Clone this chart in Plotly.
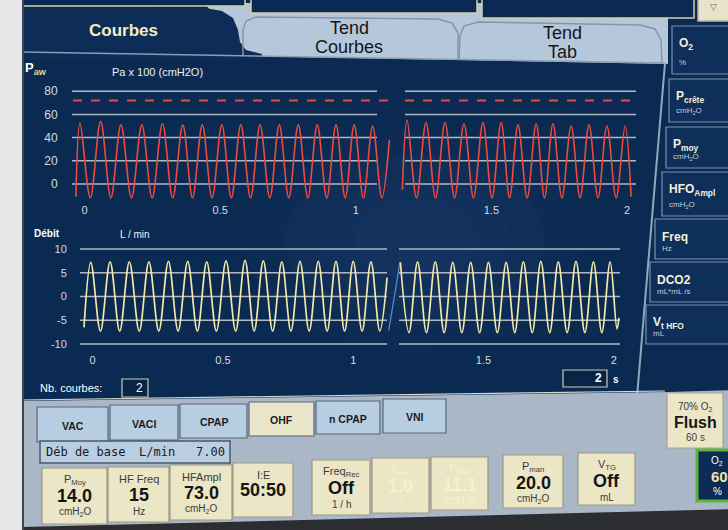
import plotly.graph_objects as go

W, H = 728, 530

# ---- waveforms (time in s) ----
# Paw (Pa x 100, cmH2O): left = current sweep, right = previous sweep
p_left_t = [-0.032, -0.017, 0.021, 0.059, 0.097, 0.134, 0.173, 0.211, 0.249, 0.287,
            0.325, 0.362, 0.398, 0.434, 0.470, 0.506, 0.541, 0.576, 0.612, 0.647,
            0.683, 0.718, 0.753, 0.788, 0.823, 0.858, 0.893, 0.927, 0.961, 0.994,
            1.028, 1.062, 1.096, 1.124]
p_left_v = [-11, 52.5, -12, 54, -12, 51, -12, 51, -12, 52,
            -12, 51, -12, 51, -12, 51, -12, 51, -12, 51,
            -12, 51, -12, 51, -12, 51, -12, 51, -12, 51,
            -12, 50, -12, 38]
p_right_t = [1.172, 1.189, 1.224, 1.259, 1.294, 1.329, 1.364, 1.399, 1.434, 1.469,
             1.502, 1.536, 1.567, 1.598, 1.632, 1.665, 1.696, 1.727, 1.760, 1.794,
             1.827, 1.860, 1.893, 1.926, 1.960, 1.993, 2.015]
p_right_v = [-5, 55, -12, 53, -12, 53, -12, 52, -12, 53,
             -12, 53, -12, 51, -12, 52, -12, 52, -12, 50,
             -12, 51, -12, 50, -12, 50, -11]
paw_alarm = 72

# Debit (L/min)
f_left_t = [-0.033, -0.007, 0.030, 0.067, 0.104, 0.141, 0.179, 0.216, 0.254, 0.291,
            0.328, 0.365, 0.402, 0.438, 0.475, 0.512, 0.549, 0.585, 0.620, 0.655,
            0.691, 0.726, 0.761, 0.796, 0.831, 0.866, 0.900, 0.934, 0.967, 1.000,
            1.034, 1.068, 1.102, 1.130]
f_left_v = [-6.5, 7.2, -7.3, 7.3, -7.3, 7.3, -7.3, 7.3, -7.3, 7.4,
            -7.3, 7.4, -7.3, 7.3, -7.3, 7.5, -7.3, 7.6, -7.3, 7.5,
            -7.3, 7.3, -7.3, 7.4, -7.3, 7.4, -7.3, 7.4, -7.3, 7.4,
            -7.3, 7.3, -7.3, 4.0]
f_right_t = [1.181, 1.214, 1.247, 1.281, 1.315, 1.349, 1.382, 1.417, 1.451, 1.485,
             1.519, 1.553, 1.587, 1.620, 1.653, 1.687, 1.720, 1.754, 1.787, 1.821,
             1.855, 1.889, 1.922, 1.954, 1.986, 2.012, 2.020]
f_right_v = [7.2, -7.6, 7.3, -7.6, 7.3, -7.6, 7.2, -7.6, 7.2, -7.6,
             7.2, -7.6, 7.2, -7.6, 7.3, -7.6, 7.4, -7.6, 7.3, -7.6,
             7.4, -7.6, 7.3, -7.6, 7.3, -6.8, -4.5]
f_cursor_t = [1.136, 1.158, 1.179]
f_cursor_v = [-7.2, 0.0, 7.2]

paw_ticks = [0, 20, 40, 60, 80]
flow_ticks = [-10, -5, 0, 5, 10]
time_ticks = [0, 0.5, 1, 1.5, 2]

FONT = "Liberation Sans, Arial, sans-serif"
NARROW = "Liberation Sans Narrow, Liberation Sans, Arial, sans-serif"
MONO = "DejaVu Sans Mono, monospace"
NAVY = "#0b2a52"
BOX = "#0e2f5a"
GRID = "#b0b8c3"


def X(px):
    return px / W


def Y(py):
    return 1 - py / H


shapes = []
annotations = []


def rect(x0, y0, x1, y1, fill, line=None, lw=0, layer="below"):
    shapes.append(dict(type="rect", xref="paper", yref="paper",
                       x0=X(x0), x1=X(x1), y0=Y(y1), y1=Y(y0),
                       fillcolor=fill, line=dict(color=line or fill, width=lw),
                       layer=layer))


def poly(points, fill, line=None, lw=0, closed=True):
    d = "M " + " L ".join(f"{X(a):.5f},{Y(b):.5f}" for a, b in points)
    if closed:
        d += " Z"
    shapes.append(dict(type="path", xref="paper", yref="paper", path=d,
                       fillcolor=fill, line=dict(color=line or fill, width=lw),
                       layer="below"))


def seg(x0, y0, x1, y1, color, lw=1.5, dash="solid"):
    shapes.append(dict(type="line", xref="paper", yref="paper",
                       x0=X(x0), x1=X(x1), y0=Y(y0), y1=Y(y1),
                       line=dict(color=color, width=lw, dash=dash), layer="below"))


def txt(x, y, s, size=11, color="#ffffff", bold=False, anchor="center", family=FONT):
    if bold:
        s = f"<b>{s}</b>"
    annotations.append(dict(xref="paper", yref="paper", x=X(x), y=Y(y), text=s,
                            showarrow=False, xanchor=anchor, yanchor="middle",
                            font=dict(size=size, color=color, family=family)))


# ---- screen furniture ----
# glare from the photo (soft, stacked)
for rx, ry in [(170, 110), (130, 85), (95, 62), (60, 40)]:
    shapes.append(dict(type="circle", xref="paper", yref="paper",
                       x0=X(415 - rx), x1=X(415 + rx), y0=Y(240 + ry), y1=Y(240 - ry),
                       fillcolor="rgba(120,160,205,0.028)", line=dict(width=0), layer="below"))

# tab strip
poly([(205, 3), (668, 3), (668, 64), (240, 56)], "#b5c8db")
rect(22, -5, 245, 6, "#0b2955", "#d9cf9e", 1.5)
rect(251, -5, 477, 13, "#0b2955", "#d9cf9e", 1.5)
rect(482, -5, 694, 18, "#0b2955", "#d9cf9e", 1.5)
rect(698, -5, 732, 21, "#e8e3cb", "#b9b5a0", 1.5)
poly([(22, 7), (205, 8), (222, 11), (233, 18), (238, 30), (240, 42), (246, 50),
      (262, 54), (262, 60), (22, 60)], "#0d2d58")
poly([(243, 56), (243, 30), (246, 21), (256, 17), (438, 19), (452, 23), (458, 33), (458, 59)],
     "rgba(0,0,0,0)", "#8795a6", 1.5, closed=False)
poly([(459, 60), (460, 36), (464, 26), (478, 22), (640, 25), (655, 29), (661, 40), (662, 63)],
     "rgba(0,0,0,0)", "#8795a6", 1.5, closed=False)
seg(22, 52, 664, 63, "#8d9db2", 1.5)
txt(123, 31, "Courbes", 17, "#f3ebc2", bold=True)
txt(349, 28, "Tend", 18, "#151515", family=NARROW)
txt(349, 47, "Courbes", 18, "#151515", family=NARROW)
txt(562, 33, "Tend", 18, "#151515", family=NARROW)
txt(562, 52, "Tab", 18, "#151515", family=NARROW)
txt(713, 7, "▽", 9, "#6a6656")

# plot panel right border
seg(665, 63, 637, 397, "#93a7bf", 2)

# right-hand measurement boxes
right_boxes = [
    (672, 26, 74, "<b>O<sub>2</sub></b>", "%"),
    (669, 79, 122, "<b>P<sub>crête</sub></b>", "cmH<sub>2</sub>O"),
    (666, 127, 168, "<b>P<sub>moy</sub></b>", "cmH<sub>2</sub>O"),
    (662, 172, 216, "<b>HFO<sub>Ampl</sub></b>", "cmH<sub>2</sub>O"),
    (655, 219, 259, "<b>Freq</b>", "Hz"),
    (650, 262, 302, "<b>DCO2</b>", "mL*mL /s"),
    (646, 305, 344, "<b>V<sub>t HFO</sub></b>", "mL"),
]
for xl, y0, y1, title, unit in right_boxes:
    rect(xl, y0, 740, y1, BOX, "#7c92ad", 1.2)
    txt(xl + 5, y0 + 18, title, 12, "#f4efda", anchor="left")
    txt(xl + 5, y1 - 11, unit, 8, "#c3cedb", anchor="left")

# bottom control panel
poly([(22, 401), (668, 392), (740, 390), (740, 524), (22, 528)], "#a9b7c7")
seg(22, 400, 665, 391, "#d6dacd", 1.2)

row1 = [("VAC", 37, 407, 108, 442, "#b6cde2"), ("VACI", 110, 405, 178, 440, "#b6cde2"),
        ("CPAP", 180, 404, 247, 438, "#b6cde2"), ("OHF", 249, 402, 314, 436, "#e8e5cb"),
        ("n CPAP", 316, 401, 380, 434, "#b6cde2"), ("VNI", 383, 399, 446, 433, "#b6cde2")]
for label, x0, y0, x1, y1, fill in row1:
    rect(x0, y0, x1, y1, fill, "#56687a", 1.2)
    txt((x0 + x1) / 2, (y0 + y1) / 2 + 1, label, 10.5, "#1c1c1c", bold=True)

rect(40, 441, 230, 463, "#b9cee3", "#4d5966", 1.5)
txt(44, 452, "Déb de base", 12, "#1a1a1a", anchor="left", family=MONO)
txt(137, 452, "L/min", 12, "#1a1a1a", anchor="left", family=MONO)
txt(227, 452, "7.00", 12, "#1a1a1a", anchor="right", family=MONO)

CREAM = "#ebe6c6"
row2 = [
    (42, 468, 107, 524, "P<sub>Moy</sub>", "14.0", "cmH<sub>2</sub>O", False),
    (108, 467, 169, 522, "HF Freq", "15", "Hz", False),
    (170, 465, 232, 520, "HFAmpl", "73.0", "cmH<sub>2</sub>O", False),
    (233, 463, 293, 517, "I:E", "50:50", "", False),
    (312, 460, 370, 515, "Freq<sub>Rec</sub>", "Off", "1 / h", False),
    (372, 458, 429, 513, "T<sub>Rec</sub>", "1.0", "s", True),
    (431, 457, 488, 510, "P<sub>Rec</sub>", "11.1", "cmH<sub>2</sub>O", True),
    (503, 455, 563, 508, "P<sub>man</sub>", "20.0", "cmH<sub>2</sub>O", False),
    (578, 453, 635, 505, "V<sub>TG</sub>", "Off", "mL", False),
]
for x0, y0, x1, y1, top, val, unit, faded in row2:
    rect(x0, y0, x1, y1, CREAM, "#9d9982", 1.2)
    cx = (x0 + x1) / 2
    c_top, c_val = ("#f8f2cc", "#f8f2cc") if faded else ("#3a3a3a", "#151515")
    txt(cx, y0 + 12, top, 11, c_top)
    txt(cx, y0 + 28 if unit else y0 + 27, val, 18, c_val, bold=True)
    if unit:
        txt(cx, y0 + 44, unit, 10, c_top)

rect(667, 393, 723, 448, "#ece6c8", "#a8a48f", 1.2)
txt(695, 407, "70% O<sub>2</sub>", 10, "#3a3a3a")
txt(695, 422, "Flush", 16, "#151515", bold=True)
txt(695, 437, "60 s", 10, "#3a3a3a")
rect(697, 450, 735, 501, "#0d2c55", "#5cb43a", 3)
txt(717, 461, "O<sub>2</sub>", 10, "#ffffff")
txt(719, 476, "60", 15, "#efe6ac", bold=True)
txt(717, 491, "%", 10, "#ffffff")

# bezel
poly([(22, 527), (740, 509), (740, 540), (22, 540)], "#2b2d31")
rect(-5, -5, 22, 540, "#e7e7e9")
seg(23, 0, 23, 530, "#3c4450", 2)

# ---- waveform panel decorations ----
for v in paw_ticks:
    for x0, x1 in [(72, 377), (405, 636)]:
        shapes.append(dict(type="line", xref="paper", yref="y", x0=X(x0), x1=X(x1),
                           y0=v, y1=v, line=dict(color=GRID, width=1.5), layer="below"))
for x0, x1 in [(73, 390), (405, 636)]:
    shapes.append(dict(type="line", xref="paper", yref="y", x0=X(x0), x1=X(x1),
                       y0=paw_alarm, y1=paw_alarm,
                       line=dict(color="#e8473d", width=2, dash="dash"), layer="below"))
for v in flow_ticks:
    for x0, x1 in [(80, 387), (399, 620)]:
        shapes.append(dict(type="line", xref="paper", yref="y2", x0=X(x0), x1=X(x1),
                           y0=v, y1=v, line=dict(color=GRID, width=1.5), layer="below"))

txt(23, 69, "P<sub><span style='color:#e3d68e'>aw</span></sub>", 13, "#ffffff", bold=True, anchor="left")
txt(110, 72, "Pa x 100 (cmH2O)", 11, "#eef0f4", anchor="left")
txt(32, 233, "Débit", 10, "#ffffff", bold=True, anchor="left")
txt(118, 234, "L / min", 10, "#eef0f4", anchor="left")
txt(38, 388, "Nb. courbes:", 11, "#ffffff", anchor="left")
rect(122, 379, 148, 397, "#0a2447", "#c9cbbe", 1.2)
txt(145, 388, "2", 12, "#ffffff", anchor="right")
rect(563, 370, 607, 387, "#0a2447", "#c9cbbe", 1.2)
txt(604, 378, "2", 12, "#ffffff", bold=True, anchor="right")
txt(611, 379, "s", 10, "#ffffff", bold=True, anchor="left")

# ---- traces ----
fig = go.Figure()
wave = dict(mode="lines", hoverinfo="skip", showlegend=False)
fig.add_trace(go.Scatter(x=p_left_t, y=p_left_v, xaxis="x", yaxis="y",
                         line=dict(color="#ef4a3f", width=1.6, shape="spline"), **wave))
fig.add_trace(go.Scatter(x=p_right_t, y=p_right_v, xaxis="x", yaxis="y",
                         line=dict(color="#ef4a3f", width=1.6, shape="spline"), **wave))
fig.add_trace(go.Scatter(x=f_cursor_t, y=f_cursor_v, xaxis="x2", yaxis="y2",
                         line=dict(color="#4f86bd", width=1.4, shape="spline"), **wave))
fig.add_trace(go.Scatter(x=f_left_t, y=f_left_v, xaxis="x2", yaxis="y2",
                         line=dict(color="#f2e9a9", width=1.7, shape="spline"), **wave))
fig.add_trace(go.Scatter(x=f_right_t, y=f_right_v, xaxis="x2", yaxis="y2",
                         line=dict(color="#f2e9a9", width=1.7, shape="spline"), **wave))

tick_font = dict(size=11, color="#d6dae2", family=FONT)
common = dict(showgrid=False, zeroline=False, showline=False, fixedrange=True,
              ticks="outside", tickcolor="rgba(0,0,0,0)")
time_text = [f"{t:g}" for t in time_ticks]

fig.update_layout(
    width=W, height=H,
    margin=dict(l=0, r=0, t=0, b=0),
    paper_bgcolor=NAVY, plot_bgcolor="rgba(0,0,0,0)",
    showlegend=False,
    xaxis=dict(domain=[X(70), X(636)], range=[-0.0538, 2.0332], anchor="y",
               tickvals=time_ticks, ticktext=time_text, ticklen=0, ticklabelstandoff=-2,
               tickfont=tick_font, **common),
    yaxis=dict(domain=[Y(201.4), Y(85.4)], range=[-15, 85], anchor="x",
               tickvals=paw_ticks, ticktext=[f"{v:g}" for v in paw_ticks], ticklen=9,
               tickfont=dict(size=12, color="#d6dae2", family=FONT), **common),
    xaxis2=dict(domain=[X(80), X(620)], range=[-0.0484, 2.0238], anchor="y2",
                tickvals=time_ticks, ticktext=time_text, ticklen=0, ticklabelstandoff=-4,
                tickfont=tick_font, **common),
    yaxis2=dict(domain=[Y(353.5), Y(239.5)], range=[-12, 12], anchor="x2",
                tickvals=flow_ticks, ticktext=[f"{v:g}" for v in flow_ticks], ticklen=10,
                tickfont=tick_font, **common),
    shapes=shapes,
    annotations=annotations,
)

fig.write_html("out.html", config={"displayModeBar": False},
               post_script="document.body.style.margin='0';document.body.style.overflow='hidden';")
